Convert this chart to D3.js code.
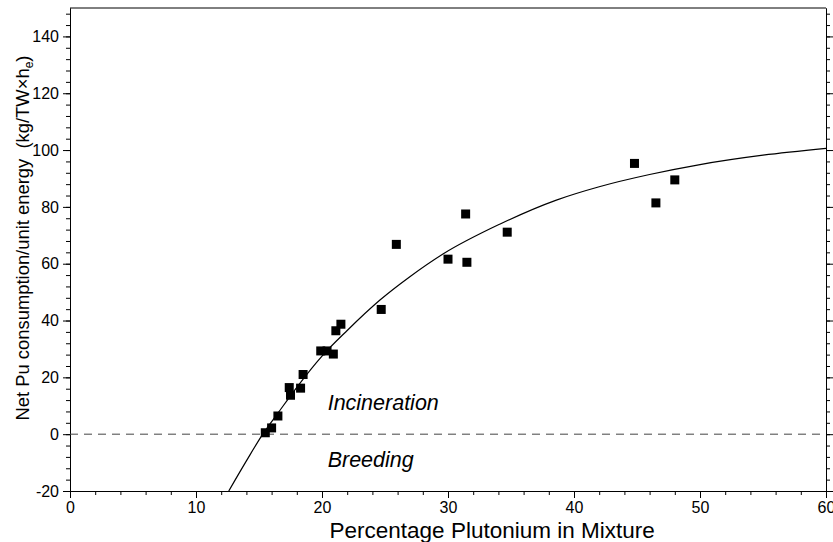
<!DOCTYPE html>
<html>
<head>
<meta charset="utf-8">
<script src="https://cdn.jsdelivr.net/npm/d3@7"></script>
<style>
  body { margin: 0; background: #fff; }
  svg { display: block; font-family: "Liberation Sans", Arial, sans-serif; }
</style>
</head>
<body>
<div class="chart"></div>
<script>
// measured points (percentage Pu, net Pu consumption)
const pctPu = [15.5, 16.0, 16.5, 17.4, 17.5, 18.3, 18.5, 19.9, 20.4, 20.9, 21.1, 21.5,
               24.7, 25.9, 30.0, 31.4, 31.5, 34.7, 44.8, 46.5, 48.0];
const netPu = [0.5, 2.2, 6.4, 16.4, 13.7, 16.2, 21.0, 29.3, 29.3, 28.2, 36.4, 38.7,
               43.9, 66.8, 61.6, 77.5, 60.5, 71.1, 95.3, 81.4, 89.5];

// fitted curve
const fitX = [12.6, 14, 15.3, 16.5, 18, 20, 22, 24.6, 27, 29.6, 34.1, 38.6, 42, 46, 50, 55, 60];
const fitY = [-20, -9.4, 0, 7.4, 16.5, 27.5, 36.5, 47.2, 55.5, 63.4, 73.9, 82.4, 87.1, 91.4, 94.9, 98.2, 100.6];

const xTicks = [0, 10, 20, 30, 40, 50, 60];
const yTicks = [-20, 0, 20, 40, 60, 80, 100, 120, 140];

const W = 833, H = 542;
const M = { top: 8, right: 7, bottom: 51, left: 70 };

const svg = d3.select(".chart").append("svg")
    .attr("width", W)
    .attr("height", H);

const x = d3.scaleLinear().domain([0, 60]).range([M.left, W - M.right]);
const y = d3.scaleLinear().domain([-20, 150]).range([H - M.bottom, M.top]);

const xMinor = d3.range(0, 61, 2);
const yMinor = d3.range(-20, 150, 4);
const plain = d => String(d);   // keep hyphen-minus like the original

function styleAxis(g) {
  g.select(".domain").attr("stroke", "#000");
  g.selectAll(".tick line").attr("stroke", "#000");
  g.selectAll("text").attr("fill", "#000").style("font-size", "16px");
}

// minor ticks first
svg.append("g")
    .attr("transform", `translate(0,${y(-20)})`)
    .call(d3.axisBottom(x).tickValues(xMinor).tickSize(4).tickSizeOuter(0).tickFormat(""))
    .call(styleAxis);
svg.append("g")
    .attr("transform", `translate(${x(0)},0)`)
    .call(d3.axisLeft(y).tickValues(yMinor).tickSize(4).tickSizeOuter(0).tickFormat(""))
    .call(styleAxis);
svg.append("g")
    .attr("transform", `translate(${x(60)},0)`)
    .call(d3.axisRight(y).tickValues(yMinor).tickSize(4).tickSizeOuter(0).tickFormat(""))
    .call(styleAxis);

// major ticks
svg.append("g")
    .attr("transform", `translate(0,${y(-20)})`)
    .call(d3.axisBottom(x).tickValues(xTicks).tickSize(7).tickSizeOuter(0).tickPadding(4).tickFormat(plain))
    .call(styleAxis);
svg.append("g")
    .attr("transform", `translate(${x(0)},0)`)
    .call(d3.axisLeft(y).tickValues(yTicks).tickSize(7).tickSizeOuter(0).tickPadding(4).tickFormat(plain))
    .call(styleAxis);
svg.append("g")
    .attr("transform", `translate(${x(60)},0)`)
    .call(d3.axisRight(y).tickValues(yTicks).tickSize(7).tickSizeOuter(0).tickFormat(""))
    .call(styleAxis);

// top border
svg.append("line")
    .attr("x1", x(0)).attr("x2", x(60))
    .attr("y1", y(150)).attr("y2", y(150))
    .attr("stroke", "#000");

// zero line
svg.append("line")
    .attr("x1", x(0)).attr("x2", x(60))
    .attr("y1", y(0)).attr("y2", y(0))
    .attr("stroke", "#444")
    .attr("stroke-dasharray", "8,6");

svg.append("clipPath").attr("id", "plot")
  .append("rect")
    .attr("x", x(0)).attr("y", y(150))
    .attr("width", x(60) - x(0)).attr("height", y(-20) - y(150));

const line = d3.line()
    .x(d => x(d[0]))
    .y(d => y(d[1]))
    .curve(d3.curveMonotoneX);

svg.append("path")
    .attr("d", line(d3.zip(fitX, fitY)))
    .attr("clip-path", "url(#plot)")
    .attr("fill", "none")
    .attr("stroke", "#000")
    .attr("stroke-width", 1.2);

const sq = 9;
svg.selectAll(".pt")
  .data(d3.zip(pctPu, netPu))
  .enter()
    .append("rect")
    .attr("class", "pt")
    .attr("x", d => x(d[0]) - sq / 2)
    .attr("y", d => y(d[1]) - sq / 2)
    .attr("width", sq)
    .attr("height", sq)
    .attr("fill", "#000");

// region labels
svg.append("text")
    .attr("x", x(20.45)).attr("y", y(8.4))
    .style("font-size", "21.5px").style("font-style", "italic")
    .text("Incineration");
svg.append("text")
    .attr("x", x(20.45)).attr("y", y(-11.5))
    .style("font-size", "21.5px").style("font-style", "italic")
    .text("Breeding");

// axis titles
svg.append("text")
    .attr("x", x(20.6)).attr("y", 538)
    .style("font-size", "22.5px")
    .text("Percentage Plutonium in Mixture");

const yt = svg.append("text")
    .attr("transform", `translate(29,238) rotate(-90)`)
    .attr("text-anchor", "middle")
    .style("font-size", "18.4px");
yt.append("tspan").text("Net Pu consumption/unit energy\u00a0\u00a0(kg/TW\u00d7h");
yt.append("tspan").attr("dy", 4).style("font-size", "12px").text("e");
yt.append("tspan").attr("dy", -4).text(")");
</script>
</body>
</html>
